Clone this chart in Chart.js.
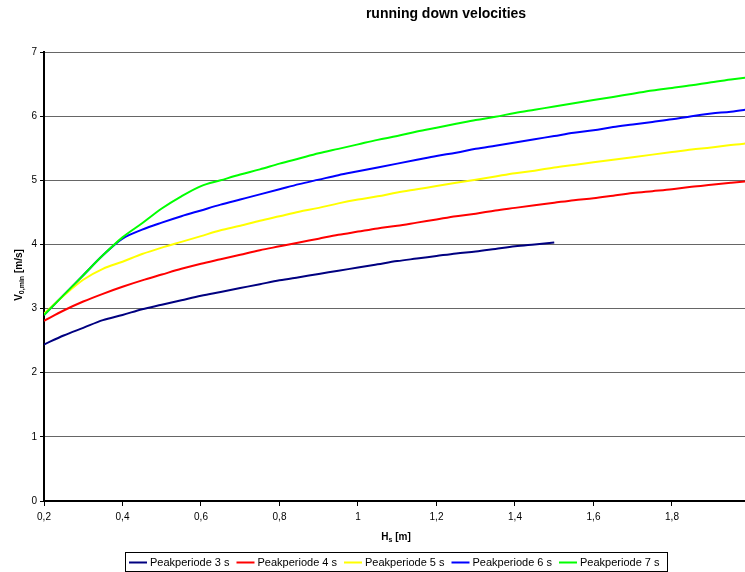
<!DOCTYPE html>
<html>
<head>
<meta charset="utf-8">
<script src="https://cdn.jsdelivr.net/npm/chart.js@4.4.1/dist/chart.umd.min.js"></script>
<style>
  html, body { margin: 0; padding: 0; background: #fff; overflow: hidden; }
  canvas { display: block; }
</style>
</head>
<body>
<canvas id="c" width="745" height="572"></canvas>
<script>
// ---- data ----
const chartTitle = "running down velocities";
const seriesLabels = ["Peakperiode 3 s", "Peakperiode 4 s", "Peakperiode 5 s", "Peakperiode 6 s", "Peakperiode 7 s"];
const seriesColors = ["#000080", "#FF0000", "#FFFF00", "#0000FF", "#00FF00"];

const hValues = [0.2, 0.25, 0.3, 0.35, 0.4, 0.45, 0.5, 0.55, 0.6, 0.65, 0.7, 0.75, 0.8, 0.85, 0.9, 0.95,
                 1.0, 1.05, 1.1, 1.15, 1.2, 1.25, 1.3, 1.35, 1.4, 1.45, 1.5, 1.55, 1.6, 1.65, 1.7, 1.75,
                 1.8, 1.85, 1.9, 1.95, 2.0];

const peak3 = [2.44, 2.58, 2.70, 2.82, 2.90, 2.99, 3.06, 3.13, 3.20, 3.26, 3.32, 3.38, 3.44, 3.49, 3.54, 3.59,
               3.64, 3.69, 3.74, 3.78, 3.82, 3.86, 3.89, 3.93, 3.97, 4.00, 4.03];
const peak4 = [2.81, 2.97, 3.11, 3.23, 3.34, 3.44, 3.53, 3.62, 3.70, 3.77, 3.84, 3.91, 3.97, 4.03, 4.09, 4.15,
               4.20, 4.25, 4.29, 4.34, 4.39, 4.44, 4.48, 4.53, 4.57, 4.61, 4.65, 4.69, 4.72, 4.76, 4.80, 4.83,
               4.86, 4.90, 4.93, 4.96, 4.99];
const peak5 = [2.92, 3.20, 3.45, 3.62, 3.73, 3.85, 3.95, 4.04, 4.13, 4.22, 4.29, 4.37, 4.44, 4.51, 4.57, 4.64,
               4.70, 4.75, 4.81, 4.86, 4.91, 4.96, 5.01, 5.06, 5.11, 5.15, 5.20, 5.24, 5.28, 5.32, 5.36, 5.40,
               5.44, 5.48, 5.51, 5.55, 5.58];
const peak6 = [2.90, 3.21, 3.52, 3.83, 4.09, 4.23, 4.34, 4.44, 4.53, 4.62, 4.70, 4.78, 4.86, 4.94, 5.01, 5.08,
               5.14, 5.20, 5.26, 5.32, 5.38, 5.43, 5.49, 5.54, 5.59, 5.64, 5.69, 5.74, 5.78, 5.83, 5.87, 5.91,
               5.95, 6.00, 6.04, 6.07, 6.11];
const peak7 = [2.90, 3.21, 3.52, 3.83, 4.11, 4.33, 4.56, 4.75, 4.91, 5.00, 5.09, 5.17, 5.26, 5.34, 5.42, 5.49,
               5.56, 5.63, 5.69, 5.76, 5.82, 5.88, 5.94, 5.99, 6.05, 6.10, 6.15, 6.20, 6.25, 6.30, 6.35, 6.40,
               6.44, 6.48, 6.53, 6.57, 6.61];

const allSeries = [peak3, peak4, peak5, peak6, peak7];

// ---- chart ----
const FONT = '"Liberation Sans", Arial, Helvetica, sans-serif';
Chart.defaults.font.family = FONT;
Chart.defaults.color = '#000';

const datasets = allSeries.map((vals, i) => ({
  label: seriesLabels[i],
  data: vals.map((v, k) => ({ x: hValues[k], y: v })),
  borderColor: seriesColors[i],
  backgroundColor: seriesColors[i],
  borderWidth: 2,
  pointRadius: 0,
  fill: false,
  cubicInterpolationMode: 'monotone',
  order: i === 4 ? -1 : 0
}));

function drawSubText(ctx, parts, cx, cy) {
  let total = 0;
  parts.forEach(p => {
    ctx.font = p.sub ? 'bold 7px ' + FONT : 'bold 10px ' + FONT;
    p.w = ctx.measureText(p.t).width;
    total += p.w;
  });
  let x = cx - total / 2;
  ctx.textAlign = 'left';
  ctx.textBaseline = 'alphabetic';
  parts.forEach(p => {
    ctx.font = p.sub ? 'bold 7px ' + FONT : 'bold 10px ' + FONT;
    ctx.fillText(p.t, x, cy + (p.sub ? 5.5 : 3.5));
    x += p.w;
  });
}

const textPlugin = {
  id: 'texts',
  afterDraw(chart) {
    const ctx = chart.ctx;
    ctx.save();
    ctx.fillStyle = '#000';
    ctx.font = 'bold 14px ' + FONT;
    ctx.textAlign = 'center';
    ctx.textBaseline = 'middle';
    ctx.fillText(chartTitle, 446, 14);

    drawSubText(ctx, [{t: 'H'}, {t: 's', sub: true}, {t: ' [m]'}], 396, 536);

    ctx.save();
    ctx.translate(18, 275);
    ctx.rotate(-Math.PI / 2);
    drawSubText(ctx, [{t: 'V'}, {t: '0,min', sub: true}, {t: ' [m/s]'}], 0, 0);
    ctx.restore();

    const bx = 125.5, by = 552.5, bw = 542, bh = 19;
    ctx.strokeStyle = '#000';
    ctx.lineWidth = 1;
    ctx.strokeRect(bx, by, bw, bh);
    let x = 129;
    const ly = 562.5;
    ctx.font = '11px ' + FONT;
    ctx.textAlign = 'left';
    ctx.textBaseline = 'middle';
    chart.data.datasets.forEach(ds => {
      ctx.strokeStyle = ds.borderColor;
      ctx.lineWidth = 2;
      ctx.beginPath();
      ctx.moveTo(x, ly);
      ctx.lineTo(x + 18, ly);
      ctx.stroke();
      ctx.fillStyle = '#000';
      ctx.fillText(ds.label, x + 21, ly);
      x += 21 + ctx.measureText(ds.label).width + 7;
    });
    ctx.restore();
  }
};

new Chart(document.getElementById('c'), {
  type: 'line',
  data: { datasets },
  options: {
    responsive: false,
    animation: false,
    layout: { padding: { top: 52, left: 0, right: 0, bottom: 0 } },
    plugins: {
      legend: { display: false },
      tooltip: { enabled: false },
      title: { display: false }
    },
    scales: {
      x: {
        type: 'linear',
        min: 0.2,
        max: 1.986,
        bounds: 'data',
        ticks: {
          stepSize: 0.2,
          includeBounds: false,
          autoSkip: false,
          maxRotation: 0,
          padding: 5,
          font: { size: 10 },
          color: '#000',
          callback: v => String(Math.round(v * 10) / 10).replace('.', ',')
        },
        grid: {
          drawOnChartArea: false,
          drawTicks: true,
          tickLength: 5,
          tickColor: '#000',
          tickWidth: 1
        },
        border: { display: true, color: '#000', width: 2 },
        afterFit: s => { s.height = 71; }
      },
      y: {
        min: 0,
        max: 7,
        ticks: {
          stepSize: 1,
          padding: 3,
          font: { size: 10 },
          color: '#000'
        },
        grid: {
          color: '#666',
          lineWidth: 1,
          drawTicks: true,
          tickLength: 4,
          tickColor: '#000',
          tickWidth: 1
        },
        border: { display: true, color: '#000', width: 2 },
        afterFit: s => { s.width = 44; }
      }
    }
  },
  plugins: [textPlugin]
});
</script>
</body>
</html>
